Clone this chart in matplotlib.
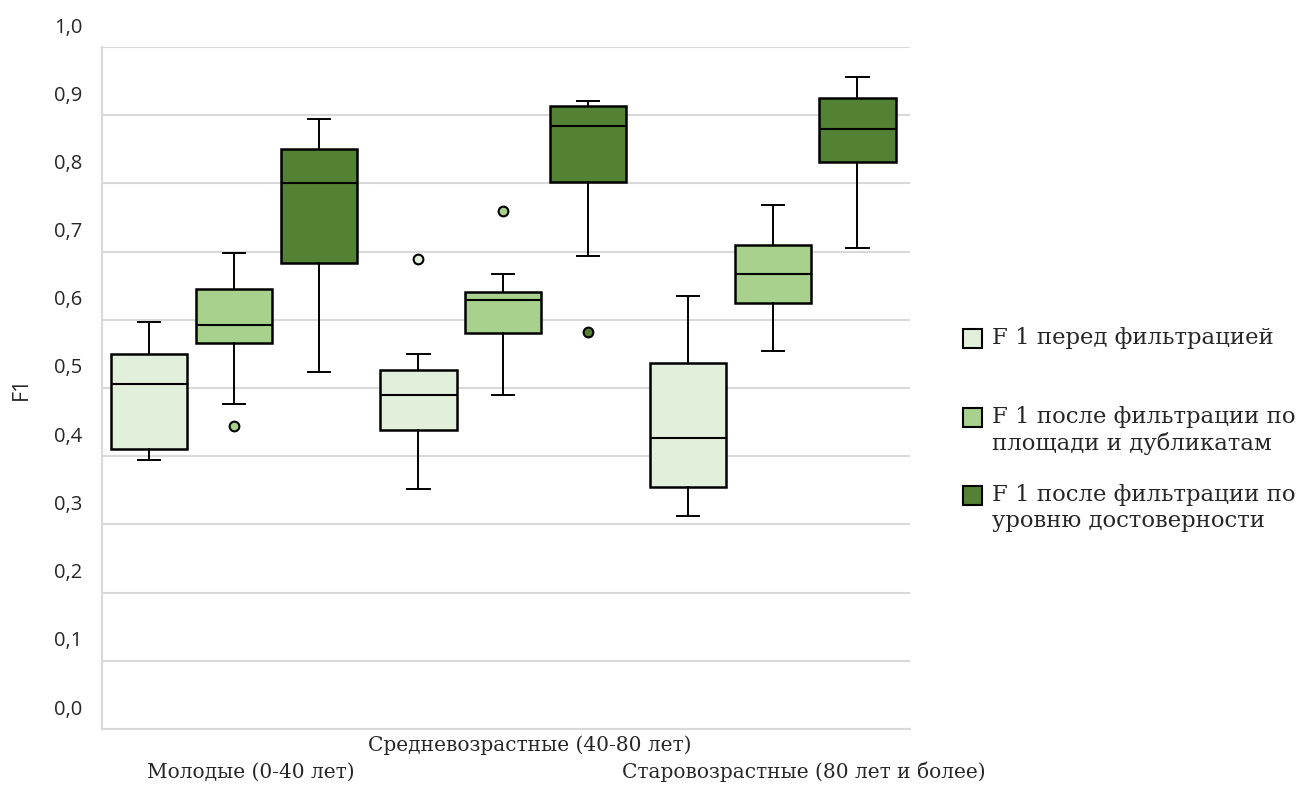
import matplotlib
matplotlib.use("Agg")
import matplotlib.pyplot as plt
from matplotlib.patches import Rectangle
from matplotlib.transforms import ScaledTranslation

# box statistics per age group, read as (whislo, q1, med, q3, whishi)
groups = ["Молодые (0-40 лет)", "Средневозрастные (40-80 лет)",
          "Старовозрастные (80 лет и более)"]
series = ["F 1 перед фильтрацией",
          "F 1 после фильтрации по\nплощади и дубликатам",
          "F 1 после фильтрации по\nуровню достоверности"]

before = [(0.394, 0.411, 0.506, 0.550, 0.597),
          (0.352, 0.439, 0.490, 0.526, 0.550),
          (0.313, 0.355, 0.427, 0.537, 0.635)]
area_dup = [(0.477, 0.566, 0.593, 0.645, 0.698),
            (0.490, 0.580, 0.629, 0.641, 0.667),
            (0.554, 0.625, 0.667, 0.710, 0.768)]
confidence = [(0.523, 0.684, 0.800, 0.850, 0.894),
              (0.693, 0.802, 0.884, 0.913, 0.921),
              (0.705, 0.832, 0.880, 0.925, 0.956)]

outliers_before = [[], [0.689], []]
outliers_area_dup = [[0.445], [0.759], []]
outliers_confidence = [[], [0.582], []]

colors = ["#E2EFDA", "#A9D18E", "#548235"]
yticks = [0.0, 0.1, 0.2, 0.3, 0.4, 0.5, 0.6, 0.7, 0.8, 0.9, 1.0]

fig = plt.figure(figsize=(12.96, 7.85), dpi=100)
ax = fig.add_axes([102 / 1296, 56 / 785, 808 / 1296, 682 / 785])

offsets = [-0.325, -0.01, 0.305]
width = 0.283
all_stats = [before, area_dup, confidence]
all_fliers = [outliers_before, outliers_area_dup, outliers_confidence]

for k, (stats5, fl, col) in enumerate(zip(all_stats, all_fliers, colors)):
    stats = []
    for (lo, q1, med, q3, hi), f in zip(stats5, fl):
        stats.append(dict(whislo=lo, q1=q1, med=med, q3=q3, whishi=hi, fliers=f))
    pos = [i + offsets[k] for i in range(len(groups))]
    ax.bxp(stats, positions=pos, widths=width, capwidths=0.082,
           patch_artist=True, manage_ticks=False, zorder=3,
           boxprops=dict(facecolor=col, edgecolor="black", linewidth=1.8),
           medianprops=dict(color="black", linewidth=1.5),
           whiskerprops=dict(color="black", linewidth=1.4),
           capprops=dict(color="black", linewidth=1.4),
           flierprops=dict(marker="o", markersize=7, markerfacecolor=col,
                           markeredgecolor="black", markeredgewidth=1.5))

ax.set_xlim(-0.5, 2.5)
ax.set_ylim(0, 1)
ax.set_yticks(yticks)
ax.set_yticklabels([f"{v:.1f}".replace(".", ",") for v in yticks],
                   family="Open Sans", fontsize=14.5, color="#262626")
ax.grid(axis="y", color="#d9d9d9", linewidth=1.5, zorder=0)
ax.set_axisbelow(True)
ax.tick_params(axis="y", length=0, pad=14)
for name in ["top", "right"]:
    ax.spines[name].set_visible(False)
for name in ["left", "bottom"]:
    ax.spines[name].set_color("#d9d9d9")
    ax.spines[name].set_linewidth(1.5)

# tick labels sit a bit above their gridlines
for lab in ax.get_yticklabels():
    lab.set_transform(lab.get_transform() + ScaledTranslation(0, 0.22, fig.dpi_scale_trans))

# staggered category labels
ax.set_xticks(range(len(groups)))
ax.set_xticklabels(groups, family="DejaVu Serif", fontsize=14.5, color="#262626")
ax.tick_params(axis="x", length=0, pad=0)
label_shift = [(14, -43), (24, -16), (28, -43)]
for lab, (dx, dy) in zip(ax.get_xticklabels(), label_shift):
    lab.set_va("center")
    lab.set_transform(lab.get_transform() +
                      ScaledTranslation(dx / 100, dy / 100, fig.dpi_scale_trans))

ax.set_ylabel("F1", family="Open Sans", fontsize=15.5, color="#262626")
ax.yaxis.set_label_coords(-0.0866, 0.5)

# legend on the right
W, H = 1296, 785
rows = [338, 417, 495]
for lab, col, y in zip(series, colors, rows):
    fig.patches.append(Rectangle((963 / W, (H - y - 9.5) / H), 19 / W, 19 / H,
                                 transform=fig.transFigure, facecolor=col,
                                 edgecolor="black", linewidth=1.5))
    fig.text(992 / W, (H - y + 11) / H, lab, family="DejaVu Serif", fontsize=16.4,
             color="#262626", va="top", ha="left", linespacing=1.22,
             transform=fig.transFigure)

fig.savefig("out.png", dpi=100)
